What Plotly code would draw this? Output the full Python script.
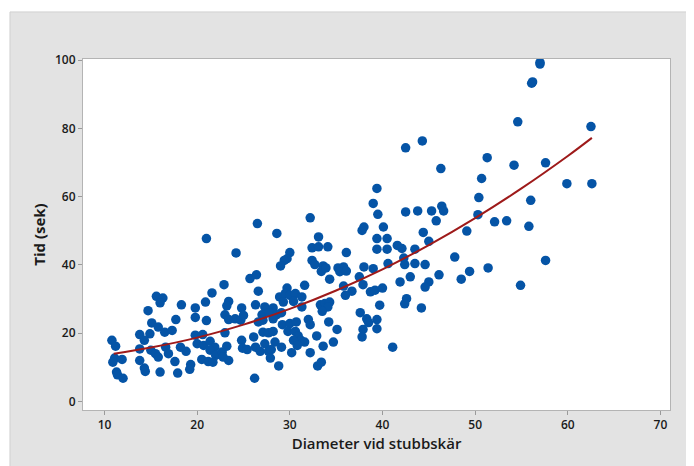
import plotly.graph_objects as go

diameter = [
    21.0, 24.2, 22.9, 21.6, 15.6, 16.3, 16.0, 18.3, 20.9, 19.8, 23.4, 23.2, 24.8, 14.7, 17.7, 19.8, 21.0, 23.0, 23.4, 24.1,
    24.7, 15.1, 15.8, 14.9, 13.8, 14.3, 16.5, 17.3, 19.8, 20.6, 23.0, 10.8, 11.2, 11.1, 11.9, 10.9, 13.8, 13.8, 14.3, 14.4,
    15.0, 15.5, 15.8, 16.6, 16.9, 16.0, 17.6, 17.9, 18.2, 18.8, 19.3, 19.2, 20.0, 20.7, 20.5, 21.4, 21.9, 21.4, 22.0, 21.2,
    21.7, 22.7, 23.2, 23.4, 22.8, 24.8, 24.9, 11.3, 11.4, 12.0,
    26.5, 28.6, 33.1, 32.4, 33.1, 34.1, 30.0, 29.7, 29.4, 29.0, 32.4, 32.7, 33.6, 33.4, 33.9, 36.1, 35.2, 35.8, 35.4, 36.1,
    34.3, 38.0, 39.0, 37.5, 37.9, 38.7, 39.2, 40.0, 36.7, 35.8, 36.0, 31.6, 25.7, 26.4, 26.6, 26.3, 27.3, 28.2, 28.9, 29.7,
    29.5, 30.0, 30.6, 31.3, 29.3, 30.4, 31.3, 33.3, 33.8, 34.3, 34.1, 33.5, 27.0, 27.8, 27.1, 28.6, 29.1, 28.2, 26.6, 25.0,
    29.2, 30.0, 30.7, 32.0, 32.2, 34.2, 27.1, 27.7, 28.2, 29.8, 30.6, 30.9, 31.2, 30.4, 31.6, 32.9, 35.1, 26.1, 25.4, 26.3,
    27.3, 28.4, 29.1, 26.8, 27.7, 28.0, 27.9, 30.2, 30.8, 32.2, 33.6, 34.7, 28.8, 33.0, 33.4, 26.2, 37.6, 38.3, 39.4, 38.5,
    37.9, 37.8, 39.4, 39.7, 37.8, 38.0, 40.1, 39.4, 40.5, 39.4, 40.5, 40.6, 39.4, 39.0, 39.5, 32.2,
    41.6, 42.1, 44.4, 45.0, 43.5, 42.3, 42.4, 43.5, 44.6, 49.1, 47.8, 46.1, 49.4, 48.5, 51.4, 43.0, 41.9, 45.0, 44.6, 54.9,
    42.6, 42.4, 44.2, 41.1, 57.6,
    56.1, 54.6, 44.3, 42.5, 51.3, 54.2, 46.3, 50.7, 50.4, 56.0, 42.5, 43.8, 45.3, 46.4, 46.6, 45.8, 50.3, 52.1, 53.4, 55.8,
    57.0, 57.0, 56.2, 62.5, 57.6, 59.9, 62.6,
]
tid = [
    47.7, 43.5, 34.2, 31.8, 30.8, 30.3, 28.9, 28.3, 29.1, 27.4, 29.3, 28.0, 27.4, 26.6, 24.0, 24.6, 23.7, 25.4, 24.0, 24.2,
    23.8, 23.0, 21.8, 19.8, 19.6, 17.9, 20.3, 20.8, 19.4, 19.6, 20.1, 17.9, 16.2, 12.7, 12.3, 11.5, 15.4, 12.0, 9.8, 8.8,
    15.0, 14.0, 13.0, 15.9, 14.0, 8.6, 11.7, 8.3, 15.9, 14.7, 10.8, 9.4, 16.9, 16.4, 12.3, 17.6, 15.9, 15.0, 13.5, 11.7,
    11.5, 14.5, 16.2, 12.0, 13.0, 17.9, 15.6, 8.6, 7.8, 6.8,
    52.1, 49.2, 48.2, 45.0, 45.3, 45.3, 43.6, 41.8, 41.3, 39.7, 41.3, 40.1, 39.7, 38.1, 39.1, 43.6, 39.1, 39.4, 38.0, 38.2,
    35.8, 39.4, 38.9, 36.5, 34.2, 32.1, 32.6, 33.2, 32.3, 33.8, 31.1, 34.0, 36.0, 37.1, 32.3, 28.3, 27.7, 27.4, 30.6, 33.2,
    31.6, 31.1, 31.6, 30.6, 29.1, 29.3, 27.7, 28.3, 28.7, 29.1, 27.7, 26.4, 25.4, 26.0, 23.8, 25.4, 26.0, 24.2, 23.3, 25.2,
    22.5, 22.8, 23.3, 24.0, 22.5, 23.3, 20.3, 20.1, 20.5, 20.5, 20.5, 19.2, 17.9, 17.9, 17.4, 19.2, 21.1, 18.9, 15.2, 15.9,
    16.9, 17.4, 15.9, 14.7, 14.7, 15.2, 12.7, 14.3, 16.4, 14.3, 16.2, 17.4, 10.4, 10.4, 11.5, 6.8, 26.0, 24.2, 24.0, 23.1,
    21.1, 18.9, 21.3, 28.2, 50.1, 51.1, 51.1, 47.7, 47.7, 44.6, 44.6, 40.4, 62.4, 58.0, 54.8, 53.8,
    45.7, 44.8, 49.5, 46.9, 44.6, 42.0, 40.1, 40.4, 40.1, 49.9, 42.3, 37.1, 38.1, 35.8, 39.1, 36.5, 35.0, 35.0, 33.5, 34.0,
    30.1, 28.6, 27.4, 15.9, 41.3,
    93.2, 81.9, 76.3, 74.3, 71.4, 69.2, 68.2, 65.3, 59.7, 58.9, 55.5, 55.8, 55.8, 57.2, 55.8, 52.9, 54.7, 52.6, 52.9, 51.3,
    98.8, 99.3, 93.6, 80.5, 69.9, 63.8, 63.8,
]

fit_x = [11, 15, 20, 25, 30, 35, 40, 45, 50, 55, 60, 62.6]
fit_y = [14.0, 15.8, 18.7, 22.5, 27.1, 32.5, 38.7, 45.8, 53.7, 62.4, 71.9, 77.2]

x_ticks = [10, 20, 30, 40, 50, 60, 70]
y_ticks = [0, 20, 40, 60, 80, 100]

FONT = "Open Sans"
fig = go.Figure()
fig.add_trace(go.Scatter(
    x=diameter, y=tid, mode="markers",
    marker=dict(symbol="circle", size=9.5, color="#0554a6", line=dict(width=0)),
    hoverinfo="x+y", showlegend=False,
))
fig.add_trace(go.Scatter(
    x=fit_x, y=fit_y, mode="lines", line=dict(color="#9e1a1a", width=2, shape="spline"),
    showlegend=False, hoverinfo="skip",
))

# figure sits at page offset (8, 8) due to default body margin
fig.update_layout(
    width=686, height=458,
    margin=dict(l=75, r=24, t=51, b=56),
    paper_bgcolor="#e3e3e3",
    plot_bgcolor="white",
    font=dict(family=FONT, color="#1a1a1a"),
    shapes=[
        dict(type="rect", xref="paper", yref="paper", x0=-0.2, x1=1.1, y0=1.134, y1=1.2,
             fillcolor="white", line=dict(width=0), layer="below"),
        dict(type="rect", xref="paper", yref="paper", x0=-0.2, x1=-0.1244, y0=-0.3, y1=1.2,
             fillcolor="white", line=dict(width=0), layer="below"),
        dict(type="line", xref="paper", yref="paper", x0=-0.1244, x1=1.1, y0=1.134, y1=1.134,
             line=dict(color="#d0d0d0", width=1), layer="below"),
        dict(type="line", xref="paper", yref="paper", x0=-0.1244, x1=-0.1244, y0=-0.3, y1=1.134,
             line=dict(color="#d0d0d0", width=1), layer="below"),
    ],
)
fig.update_xaxes(
    range=[7.68, 71.03], tickvals=x_ticks, ticks="outside", ticklen=4, tickcolor="#9a9a9a",
    showgrid=False, zeroline=False, showline=True, linecolor="#b4b4b4", linewidth=1, mirror=True,
    tickfont=dict(size=12, family=FONT, weight=600),
    title=dict(text="Diameter vid stubbskär", font=dict(size=15, family=FONT, weight=600), standoff=6),
)
fig.update_yaxes(
    range=[-2.5, 100.3], tickvals=y_ticks, ticks="outside", ticklen=4, tickcolor="#9a9a9a",
    showgrid=False, zeroline=False, showline=True, linecolor="#b4b4b4", linewidth=1, mirror=True,
    tickfont=dict(size=12, family=FONT, weight=600),
    title=dict(text="Tid (sek)", font=dict(size=15, family=FONT, weight=700), standoff=5),
)

fig.write_html("out.html")
